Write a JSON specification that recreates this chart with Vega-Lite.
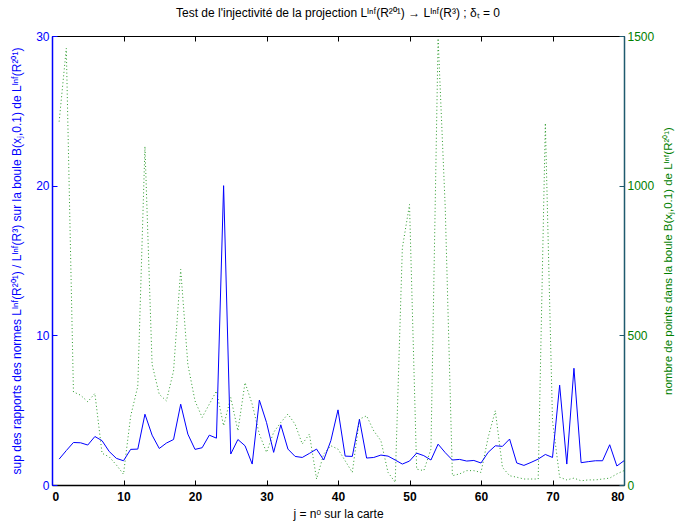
{
  "$schema": "https://vega.github.io/schema/vega-lite/v6.json",
  "width": 572,
  "height": 449,
  "autosize": {"type": "none"},
  "padding": {"left": 52, "top": 36, "right": 58, "bottom": 38},
  "background": "white",
  "config": {
    "view": {"stroke": null},
    "font": "Liberation Sans",
    "axis": {"grid": false, "labelFont": "Liberation Sans", "titleFont": "Liberation Sans", "labelFontSize": 12, "titleFontSize": 12, "titleFontWeight": "normal"}
  },
  "title": {
    "text": "Test de l'injectivité de la projection Lᴵⁿᶠ(R²⁰¹) → Lᴵⁿᶠ(R³) ; δₜ = 0",
    "fontSize": 12,
    "fontWeight": "normal",
    "font": "Liberation Sans",
    "anchor": "middle",
    "offset": 10,
    "color": "black"
  },
  "data": {
    "values": [
      {"j": 1, "ratio": 1.73, "points": 1214},
      {"j": 2, "ratio": 2.3, "points": 1459},
      {"j": 3, "ratio": 2.84, "points": 311},
      {"j": 4, "ratio": 2.82, "points": 300},
      {"j": 5, "ratio": 2.67, "points": 278},
      {"j": 6, "ratio": 3.24, "points": 306},
      {"j": 7, "ratio": 2.96, "points": 106},
      {"j": 8, "ratio": 2.24, "points": 94},
      {"j": 9, "ratio": 1.78, "points": 67},
      {"j": 10, "ratio": 1.62, "points": 36},
      {"j": 11, "ratio": 2.38, "points": 230},
      {"j": 12, "ratio": 2.4, "points": 330},
      {"j": 13, "ratio": 4.73, "points": 1131},
      {"j": 14, "ratio": 3.33, "points": 403},
      {"j": 15, "ratio": 2.44, "points": 303},
      {"j": 16, "ratio": 2.8, "points": 281},
      {"j": 17, "ratio": 3.04, "points": 381},
      {"j": 18, "ratio": 5.4, "points": 720},
      {"j": 19, "ratio": 3.4, "points": 403},
      {"j": 20, "ratio": 2.38, "points": 281},
      {"j": 21, "ratio": 2.49, "points": 226},
      {"j": 22, "ratio": 3.33, "points": 270},
      {"j": 23, "ratio": 3.13, "points": 314},
      {"j": 24, "ratio": 20.0, "points": 198},
      {"j": 25, "ratio": 2.07, "points": 292},
      {"j": 26, "ratio": 3.04, "points": 181},
      {"j": 27, "ratio": 2.62, "points": 342},
      {"j": 28, "ratio": 1.4, "points": 270},
      {"j": 29, "ratio": 5.67, "points": 170},
      {"j": 30, "ratio": 4.18, "points": 109},
      {"j": 31, "ratio": 2.18, "points": 176},
      {"j": 32, "ratio": 4.02, "points": 209},
      {"j": 33, "ratio": 2.4, "points": 237},
      {"j": 34, "ratio": 1.91, "points": 203},
      {"j": 35, "ratio": 1.84, "points": 137},
      {"j": 36, "ratio": 2.11, "points": 170},
      {"j": 37, "ratio": 2.4, "points": 20},
      {"j": 38, "ratio": 1.67, "points": 103},
      {"j": 39, "ratio": 2.96, "points": 131},
      {"j": 40, "ratio": 5.02, "points": 120},
      {"j": 41, "ratio": 1.93, "points": 81},
      {"j": 42, "ratio": 1.91, "points": 42},
      {"j": 43, "ratio": 4.38, "points": 220},
      {"j": 44, "ratio": 1.8, "points": 231},
      {"j": 45, "ratio": 1.84, "points": 181},
      {"j": 46, "ratio": 2.0, "points": 148},
      {"j": 47, "ratio": 1.93, "points": 42},
      {"j": 48, "ratio": 1.67, "points": 9},
      {"j": 49, "ratio": 1.4, "points": 792},
      {"j": 50, "ratio": 1.6, "points": 937},
      {"j": 51, "ratio": 2.13, "points": 53},
      {"j": 52, "ratio": 1.96, "points": 48},
      {"j": 53, "ratio": 1.67, "points": 120},
      {"j": 54, "ratio": 2.73, "points": 1492},
      {"j": 55, "ratio": 2.16, "points": 925},
      {"j": 56, "ratio": 1.67, "points": 31},
      {"j": 57, "ratio": 1.71, "points": 37},
      {"j": 58, "ratio": 1.6, "points": 48},
      {"j": 59, "ratio": 1.64, "points": 48},
      {"j": 60, "ratio": 1.47, "points": 42},
      {"j": 61, "ratio": 2.18, "points": 159},
      {"j": 62, "ratio": 2.62, "points": 248},
      {"j": 63, "ratio": 2.58, "points": 59},
      {"j": 64, "ratio": 3.07, "points": 31},
      {"j": 65, "ratio": 1.47, "points": 26},
      {"j": 66, "ratio": 1.31, "points": 20},
      {"j": 67, "ratio": 1.51, "points": 20},
      {"j": 68, "ratio": 1.73, "points": 20},
      {"j": 69, "ratio": 2.04, "points": 1209},
      {"j": 70, "ratio": 1.84, "points": 214},
      {"j": 71, "ratio": 6.67, "points": 26},
      {"j": 72, "ratio": 1.4, "points": 17},
      {"j": 73, "ratio": 7.8, "points": 23},
      {"j": 74, "ratio": 1.49, "points": 14},
      {"j": 75, "ratio": 1.56, "points": 17},
      {"j": 76, "ratio": 1.62, "points": 17},
      {"j": 77, "ratio": 1.62, "points": 20},
      {"j": 78, "ratio": 2.69, "points": 23},
      {"j": 79, "ratio": 1.27, "points": 37},
      {"j": 80, "ratio": 1.62, "points": 48}
    ]
  },
  "layer": [
    {
      "mark": {"type": "line", "color": "#2a9a2a", "strokeWidth": 1, "strokeDash": [1, 2.5]},
      "encoding": {
        "x": {"field": "j", "type": "quantitative", "scale": {"domain": [0, 80], "nice": false},
          "axis": {"orient": "top", "labels": false, "title": null, "values": [0,10,20,30,40,50,60,70,80], "tickSize": -5, "tickColor": "black", "domainColor": "black"}},
        "y": {"field": "points", "type": "quantitative", "scale": {"domain": [0, 1500], "nice": false},
          "axis": {"orient": "right", "values": [0, 500, 1000, 1500], "format": "d", "tickSize": -5, "labelPadding": 8, "labelColor": "#008000", "tickColor": "#1f5a6e", "domainColor": "#1f5a6e", "domainWidth": 1.5,
            "title": "nombre de points dans la boule B(xⱼ,0.1) de Lᴵⁿᶠ(R²⁰¹)", "titleAngle": 270, "titleBaseline": "bottom", "titleFontSize": 11.5, "titleColor": "#008000", "titlePadding": 20}}
      }
    },
    {
      "mark": {"type": "line", "color": "#0000ff", "strokeWidth": 1},
      "encoding": {
        "x": {"field": "j", "type": "quantitative", "scale": {"domain": [0, 80], "nice": false},
          "axis": {"orient": "bottom", "values": [0,10,20,30,40,50,60,70,80], "tickSize": -5, "labelPadding": 11, "labelFontWeight": "bold", "labelColor": "black", "tickColor": "black", "domainColor": "black", "domainWidth": 1.5,
            "title": "j = nᵒ sur la carte", "titleColor": "black", "titlePadding": 6}},
        "y": {"field": "ratio", "type": "quantitative", "scale": {"domain": [0, 30], "nice": false},
          "axis": {"orient": "left", "values": [0, 10, 20, 30], "tickSize": -5, "labelPadding": 8, "labelColor": "#0000ff", "tickColor": "#0000ff", "domainColor": "#0000ff", "domainWidth": 1.5,
            "title": "sup des rapports des normes Lᴵⁿᶠ(R²⁰¹) / Lᴵⁿᶠ(R³) sur la boule B(xⱼ,0.1) de Lᴵⁿᶠ(R²⁰¹)", "titleColor": "#0000ff", "titlePadding": 12}}
      }
    }
  ],
  "resolve": {"scale": {"y": "independent"}, "axis": {"x": "independent", "y": "independent"}}
}
